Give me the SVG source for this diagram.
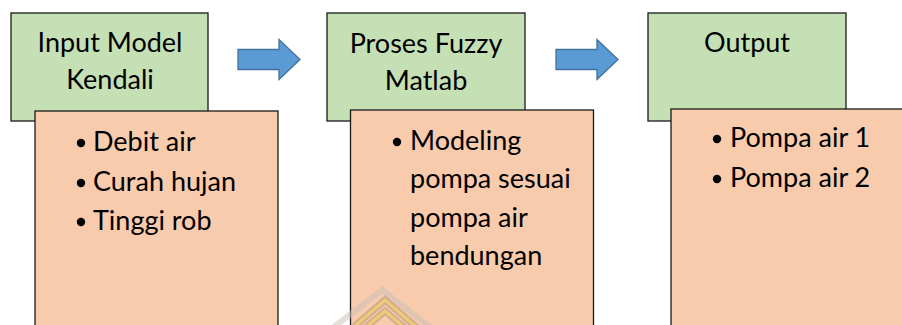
<svg xmlns="http://www.w3.org/2000/svg" width="902" height="325" viewBox="0 0 902 325">
<style>
.hd{fill:#C5E0B4;stroke:#1a1a1a;stroke-width:1.3}
.bd{fill:#F8CBAD;stroke:#1a1a1a;stroke-width:1.3}
.t{font-family:Lato,"Open Sans","Liberation Sans",sans-serif;font-size:27px;fill:#000}
.c{text-anchor:middle}
.arr{fill:#5B9BD5;stroke:#41719C;stroke-width:1.3}
</style>
<rect width="902" height="325" fill="#fff"/>
<g id="connectors">
<path class="arr" d="M238,49.5 H279 V39.5 L300,59.5 L279,79.5 V69.5 H238 Z"/>
<path class="arr" d="M556,49.5 H597 V39.5 L618,59.5 L597,79.5 V69.5 H556 Z"/>
</g>
<g id="node-input">
<rect class="hd" x="11" y="13" width="197" height="108"/>
<text class="t c" x="110" y="52">Input Model</text>
<text class="t c" x="110" y="89">Kendali</text>
<rect class="bd" x="35" y="111" width="243" height="230"/>
<circle cx="81" cy="143" r="4.2"/>
<circle cx="81" cy="183" r="4.2"/>
<circle cx="81" cy="222" r="4.2"/>
<text class="t" x="93" y="151">Debit air</text>
<text class="t" x="93" y="191">Curah hujan</text>
<text class="t" x="93" y="230">Tinggi rob</text>
</g>
<g id="node-proses">
<rect class="hd" x="327" y="13" width="198" height="108"/>
<text class="t c" x="426" y="53">Proses Fuzzy</text>
<text class="t c" x="426" y="90">Matlab</text>
<rect class="bd" x="350.5" y="110" width="243" height="230"/>
<circle cx="397" cy="142" r="4.2"/>
<text class="t" x="410" y="150">Modeling</text>
<text class="t" x="410" y="188">pompa sesuai</text>
<text class="t" x="410" y="227">pompa air</text>
<text class="t" x="410" y="265">bendungan</text>
</g>
<g id="node-output">
<rect class="hd" x="648" y="13" width="198" height="108"/>
<text class="t c" x="747" y="52">Output</text>
<rect class="bd" x="671" y="109" width="243" height="230"/>
<circle cx="717" cy="139" r="4.2"/>
<circle cx="717" cy="179" r="4.2"/>
<text class="t" x="730" y="147">Pompa air 1</text>
<text class="t" x="730" y="187">Pompa air 2</text>
</g>
<g id="watermark" fill="none" stroke-linejoin="miter">
<path d="M330,330 L382,290 L434,330" stroke="#c8c0b8" stroke-width="6" opacity="0.5"/>
<path d="M348,332 L385,300 L422,332" stroke="#b89a80" stroke-width="7" opacity="0.6"/>
<path d="M348,332 L385,300 L422,332" stroke="#f2cf70" stroke-width="3" opacity="0.9"/>
<path d="M358,334 L385,311 L412,334" stroke="#b89a80" stroke-width="7" opacity="0.6"/>
<path d="M358,334 L385,311 L412,334" stroke="#f2cf70" stroke-width="3" opacity="0.9"/>
</g>
</svg>
